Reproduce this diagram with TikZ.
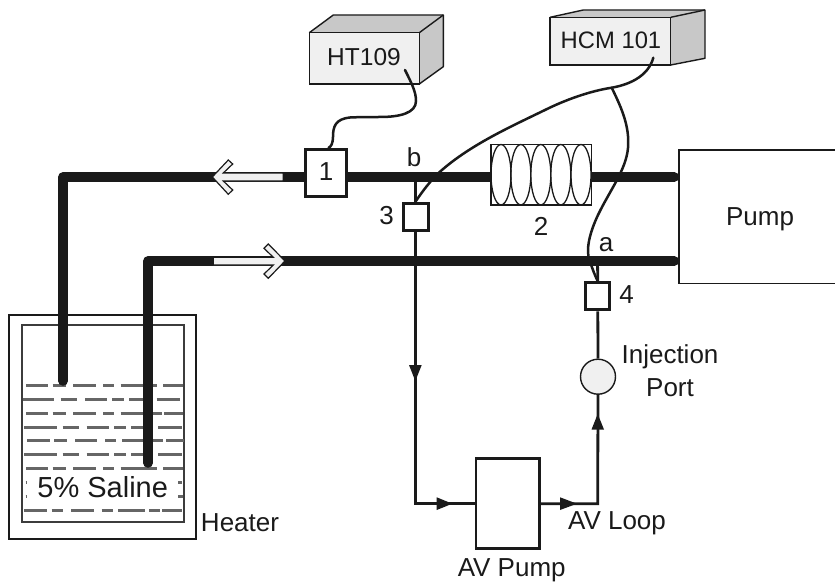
\documentclass[tikz,border=0pt]{standalone}
\usepackage{fontspec}
\setmainfont{Liberation Sans}
\definecolor{ink}{HTML}{1A1A1A}
\definecolor{lite}{HTML}{F0F0F0}
\definecolor{midg}{HTML}{C8C8C8}
\definecolor{dash}{HTML}{666666}
\tikzset{
  pipe/.style={draw=ink,line width=9.5pt,line join=round,line cap=round,shorten >=4.75pt},
  flowline/.style={draw=ink,line width=2.8pt,line join=miter},
  cable/.style={draw=ink,line width=2.5pt,line cap=round},
  lab/.style={inner sep=0pt,text=ink,font=\fontsize{26}{28}\selectfont},
  sensor/.style={draw=ink,line width=3pt,fill=white,inner sep=0pt},
  head/.style={fill=ink,draw=none},
  hollow/.style={draw=ink,line width=1.2pt,fill=lite,line join=miter},
  face/.style={draw=ink,line width=1.4pt,line join=round},
  water/.style={draw=dash,line width=2.7pt},
}
\newcommand{\dashrow}[2]{\foreach \a/\b in {#2}{\draw[water] ({\a/3},#1)--({\b/3},#1);}}
\begin{document}
\begin{tikzpicture}[x=1pt,y=-1pt]
\useasboundingbox (0,0) rectangle (835,583);
% Tank
\node[draw=ink,line width=2.6pt,minimum width=187pt,minimum height=224pt,inner sep=0pt] (heater) at (102.5,427) {};
\node[draw=ink!85,line width=1.5pt,minimum width=162pt,minimum height=197pt,inner sep=0pt] (tank) at (103,423.5) {};
\dashrow{385.5}{78/145,158/197,220/288,310/343,362/470,490/550}
\dashrow{399.5}{68/163,182/232,255/320,337/373,388/430,470/540}
\dashrow{413.5}{78/145,158/197,220/288,310/343,362/485,492/550}
\dashrow{427.5}{72/170,188/237,260/327,342/378,393/432,475/545}
\dashrow{440.5}{82/150,163/200,225/292,315/348,367/490,498/552}
\dashrow{454.5}{72/170,188/237,260/327,342/378,393/432,475/545}
\dashrow{468.5}{78/145,158/197,220/288,310/343,362/470,490/550}
\dashrow{482.5}{77/80,535/547}
\dashrow{496.5}{77/79,535/550}
\dashrow{510.5}{72/140,155/190,213/282,305/338,355/435,447/480,487/545}
% Named points
\coordinate (endL) at (63,381);
\coordinate (endR) at (148,463);
\coordinate (cornerL) at (63,177);
\coordinate (cornerR) at (148,261);
\coordinate (b) at (415.5,177);
\coordinate (a) at (597.5,261);
% Pump
\coordinate (pumpU) at (679,177);
\coordinate (pumpL) at (679,261);
% Pipes
\draw[pipe] (endL)--(cornerL)--(pumpU);
\draw[pipe] (endR)--(cornerR)--(pumpL);
\draw[draw=ink,line width=1.6pt] (835,150.3)--(679,150.3)--(679,283.3)--(835,283.3);
% Hollow arrows
\draw[hollow] (212.3,177)--(228.3,160)--(232.7,164)--(223.3,173)--(283.3,173)--(283.3,181)--(223.3,181)--(232.7,190)--(228.3,194.3)--cycle;
\draw[hollow] (285,261)--(268.3,244)--(264,248.3)--(273.3,257.3)--(213.3,257.3)--(213.3,265)--(273.3,265)--(264,274)--(268.3,278.3)--cycle;
% Coil
\node[draw=ink,line width=1.3pt,fill=white,minimum width=100.5pt,minimum height=60.5pt,inner sep=0pt] (coil) at (541.3,174.7) {};
\foreach \x in {501,520.8,540.8,560.8,581}{\draw[draw=ink,line width=1.3pt] (\x,174.7) ellipse [x radius=10,y radius=30.2];}
% Devices
\node[sensor,minimum width=41pt,minimum height=47.4pt] (s1) at (326.2,173) {};
\node[sensor,minimum width=25pt,minimum height=27.7pt] (s3) at (415.5,217) {};
\node[sensor,minimum width=24pt,minimum height=27.3pt] (s4) at (597.8,296.3) {};
\node[draw=ink,line width=2.8pt,minimum width=63.3pt,minimum height=90pt,inner sep=0pt] (avp) at (507.7,503.3) {};
\node[circle,draw=ink,line width=1.4pt,fill=lite,minimum size=35pt,inner sep=0pt] (port) at (598,376.7) {};
\coordinate (cnrBL) at (415.5,503.7);
\coordinate (cnrBR) at (597.7,503.7);
% Flow lines
\draw[flowline] (b)--(s3.north);
\draw[flowline] (s3.south)--(cnrBL)--(avp.west |- cnrBL);
\draw[flowline] (avp.east |- cnrBR)--(cnrBR)--(port.south);
\draw[flowline] (a)--(s4.north);
\draw[flowline] (s4.south)--(port.north);
\fill[head] (415.3,381)--(409,365)--(421.7,365)--cycle;
\fill[head] (452.3,503.7)--(436.7,497.3)--(436.7,510)--cycle;
\fill[head] (577,503.7)--(560,497.3)--(560,510)--cycle;
\fill[head] (597.7,414)--(591.5,429.5)--(604,429.5)--cycle;
% Instruments
\fill[midg] (309.3,32.7)--(333.3,15)--(443.3,15)--(443.3,66.7)--(419.3,84)--(419.3,32.7)--cycle;
\draw[face] (309.3,32.7)--(333.3,15)--(443.3,15)--(443.3,66.7)--(419.3,84);
\draw[face] (419.3,32.7)--(443.3,15);
\node[draw=ink,line width=1.4pt,fill=lite,minimum width=110pt,minimum height=51.3pt,inner sep=0pt] (ht) at (364.3,58.3) {};
\fill[midg] (550,17.3)--(583.3,10)--(705,10)--(705,58.3)--(670.7,65)--(670.7,17.3)--cycle;
\draw[face] (550,17.3)--(583.3,10)--(705,10)--(705,58.3)--(670.7,65);
\draw[face] (670.7,17.3)--(705,10);
\node[draw=ink,line width=1.4pt,fill=lite,minimum width=120.7pt,minimum height=47.7pt,inner sep=0pt] (hcm) at (610.3,41.2) {};
% Labels
\node[lab,font=\fontsize{24.5}{26}\selectfont] (htl) at (364,57.3) {HT109};
\node[lab,font=\fontsize{23.8}{26}\selectfont] (hcml) at (611,40) {HCM 101};
\node[lab] (l1) at (326,172) {1};
\node[lab] (l2) at (541,226.7) {2};
\node[lab] (l3) at (386.7,216) {3};
\node[lab] (l4) at (626.7,295) {4};
\node[lab] (lb) at (414,157) {b};
\node[lab] (la) at (606,245) {a};
\node[lab] (lpump) at (760,219) {Pump};
\node[lab] (linj) at (670,357) {Injection};
\node[lab] (lport) at (670,388) {Port};
\node[lab] (lloop) at (617,523) {AV Loop};
\node[lab] (lav) at (511.7,570) {AV Pump};
\node[lab] (lheat) at (240,522.7) {Heater};
\node[lab,font=\fontsize{29}{30}\selectfont] (lsal) at (102.7,487) {5\% Saline};
% Cables
\coordinate (htc) at (405,70);
\coordinate (hcmc) at (653.3,57.7);
\coordinate (split) at (611.7,87.7);
\draw[cable] (htc) .. controls (412,84) and (416,92) .. (416,101) .. controls (416,113) and (400,117) .. (380,117) .. controls (370,117) and (360,117) .. (350,117.5) .. controls (335,119) and (333,127) .. (333,137) .. controls (333,143) and (331,147) .. (s1.north -| 328.5,149);
\draw[cable] (hcmc) .. controls (649,74) and (633,84) .. (split) .. controls (590,91) and (565,100) .. (545,110) .. controls (510,127) and (470,145) .. (440,171.7) .. controls (430,181) and (422,192) .. (s3.north);
\draw[cable] (split) .. controls (620,105) and (630,125) .. (628,148) .. controls (626,170) and (610,190) .. (598,215) .. controls (590,232) and (585,250) .. (590,262) .. controls (593,270) and (595,276) .. (s4.north);
\end{tikzpicture}
\end{document}
